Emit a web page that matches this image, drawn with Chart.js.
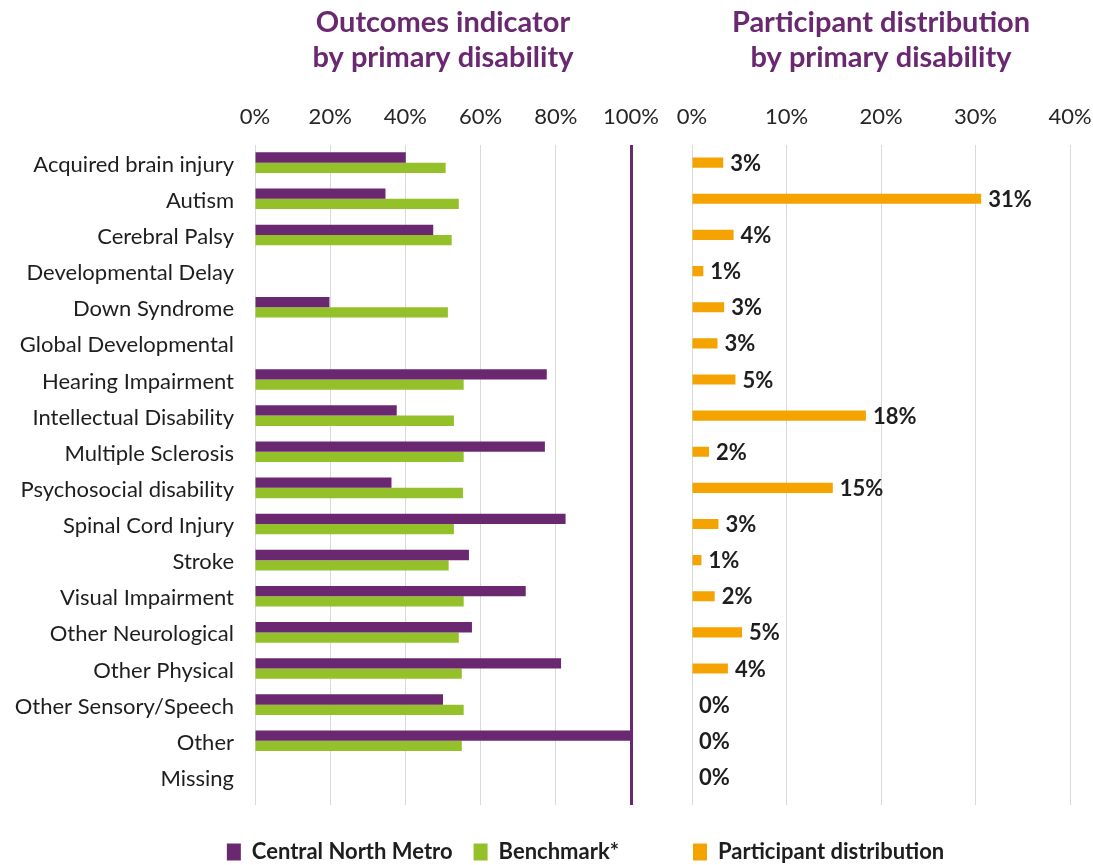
<!DOCTYPE html>
<html>
<head>
<meta charset="utf-8">
<title>Outcomes indicator and participant distribution by primary disability</title>
<script src="https://cdn.jsdelivr.net/npm/chart.js@4.4.1/dist/chart.umd.min.js"></script>
<style>
  html, body { margin: 0; padding: 0; background: #fff; overflow: hidden; }
  #wrap { position: relative; width: 1093px; height: 865px; overflow: hidden; }
  canvas { position: absolute; top: 0; }
  #chartOutcomes { left: 0; }
  #chartDistribution { left: 660px; }
</style>
</head>
<body>
<div id="wrap">
  <canvas id="chartOutcomes" width="680" height="873"></canvas>
  <canvas id="chartDistribution" width="450" height="873"></canvas>
</div>
<script>
// Categorías (discapacidad principal)
const disabilities = [
    'Acquired brain injury', 'Autism', 'Cerebral Palsy', 'Developmental Delay',
    'Down Syndrome', 'Global Developmental', 'Hearing Impairment', 'Intellectual Disability',
    'Multiple Sclerosis', 'Psychosocial disability', 'Spinal Cord Injury', 'Stroke',
    'Visual Impairment', 'Other Neurological', 'Other Physical', 'Other Sensory/Speech',
    'Other', 'Missing'
];

// Indicador de resultados (%)
const centralNorthMetro = [40.1, 34.7, 47.4, null, 19.8, null, 77.6, 37.7, 77.1, 36.3, 82.6, 56.9, 72.0, 57.7, 81.4, 50.0, 100, null];
const benchmark = [50.7, 54.2, 52.3, null, 51.3, null, 55.5, 52.9, 55.5, 55.3, 52.9, 51.5, 55.5, 54.2, 55.0, 55.5, 55.0, null];

// Distribución de participantes (%)
const participantShare = [3.3, 30.6, 4.4, 1.2, 3.4, 2.7, 4.6, 18.4, 1.8, 14.9, 2.8, 1.0, 2.4, 5.3, 3.8, 0, 0, 0];

// Marcas de los ejes
const outcomeTicks = [0, 20, 40, 60, 80, 100];
const shareTicks = [0, 10, 20, 30, 40];

const PURPLE = '#6a2870';
const GREEN = '#94c12a';
const ORANGE = '#f5a300';
const GRID = '#d9d9d9';
const TEXT = '#1e1e1e';

Chart.defaults.font.family = 'Lato, "Open Sans", sans-serif';
Chart.defaults.color = TEXT;

const titleOpts = (lines) => ({
    display: true,
    text: lines,
    color: PURPLE,
    fullSize: false,
    font: { size: 29, weight: 'bold', lineHeight: 1.2 },
    padding: { top: 5, bottom: 30 }
});

const legendOpts = (align) => ({
    position: 'bottom',
    align: align,
    labels: {
        boxWidth: 14,
        boxHeight: 17,
        padding: 21,
        color: TEXT,
        font: { size: 22, weight: 'bold' }
    }
});

// Eje x superior con etiquetas y un eje inferior que solo prolonga la rejilla
function topAxis(max, tickList, gridColor, gridWidth) {
    return {
        axis: 'x',
        position: 'top',
        min: 0,
        max: max,
        afterBuildTicks: a => { a.ticks = tickList.map(v => ({ value: v })); },
        afterFit: a => { a.height = 40; },
        ticks: { padding: 14, color: '#262626', font: { size: 22 }, callback: v => v + '%' },
        grid: { drawTicks: false, color: gridColor, lineWidth: gridWidth },
        border: { display: false }
    };
}

function bottomAxis(max, tickList, gridColor, gridWidth) {
    return {
        type: 'linear',
        axis: 'x',
        position: 'bottom',
        min: 0,
        max: max,
        afterBuildTicks: a => { a.ticks = tickList.map(v => ({ value: v })); },
        afterFit: a => { a.height = 25; },
        ticks: { display: false },
        grid: { drawOnChartArea: false, drawTicks: true, tickLength: 10, color: gridColor, lineWidth: gridWidth },
        border: { display: false }
    };
}

const outcomeGridColor = ctx => (ctx.tick && ctx.tick.value === 100 ? PURPLE : GRID);
const outcomeGridWidth = ctx => (ctx.tick && ctx.tick.value === 100 ? 3 : 1);

// Gráfico del indicador de resultados
new Chart(document.getElementById('chartOutcomes'), {
    type: 'bar',
    data: {
        labels: disabilities,
        datasets: [
            { label: 'Central North Metro', data: centralNorthMetro, backgroundColor: PURPLE },
            { label: 'Benchmark*', data: benchmark, backgroundColor: GREEN }
        ]
    },
    options: {
        indexAxis: 'y',
        responsive: false,
        animation: false,
        datasets: { bar: { borderWidth: 0, categoryPercentage: 0.57, barPercentage: 1 } },
        layout: { padding: { left: 10, right: 40, top: 0, bottom: 0 } },
        scales: {
            x: topAxis(100, outcomeTicks, outcomeGridColor, outcomeGridWidth),
            x2: bottomAxis(100, outcomeTicks, outcomeGridColor, outcomeGridWidth),
            y: {
                position: 'left',
                afterFit: a => { a.width = 245; },
                ticks: { padding: 21, labelOffset: 2, color: TEXT, font: { size: 22 } },
                grid: { display: false, drawTicks: false },
                border: { display: false }
            },
            y2: {
                type: 'category',
                axis: 'y',
                position: 'right',
                afterFit: a => { a.width = 9; },
                ticks: { display: false },
                grid: { display: false },
                border: { display: false }
            }
        },
        plugins: {
            title: titleOpts(['Outcomes indicator', 'by primary disability']),
            legend: legendOpts('end'),
            tooltip: { enabled: false }
        }
    }
});

// Etiquetas de valor al final de cada barra
const barValueLabels = {
    id: 'barValueLabels',
    afterDatasetsDraw(chart) {
        const ctx = chart.ctx;
        const meta = chart.getDatasetMeta(0);
        const values = chart.data.datasets[0].data;
        ctx.save();
        ctx.font = 'bold 22px Lato, "Open Sans", sans-serif';
        ctx.fillStyle = TEXT;
        ctx.textAlign = 'left';
        ctx.textBaseline = 'middle';
        meta.data.forEach((bar, i) => {
            ctx.fillText(Math.round(values[i]) + '%', bar.x + 7, bar.y + 1);
        });
        ctx.restore();
    }
};

// Gráfico de distribución de participantes
new Chart(document.getElementById('chartDistribution'), {
    type: 'bar',
    data: {
        labels: disabilities,
        datasets: [
            { label: 'Participant distribution', data: participantShare, backgroundColor: ORANGE }
        ]
    },
    options: {
        indexAxis: 'y',
        responsive: false,
        animation: false,
        datasets: { bar: { borderWidth: 0, categoryPercentage: 0.28, barPercentage: 1 } },
        layout: { padding: { left: 12, right: 40, top: 0, bottom: 0 } },
        scales: {
            x: topAxis(40, shareTicks, GRID, 1),
            x2: bottomAxis(40, shareTicks, GRID, 1),
            y: {
                position: 'left',
                afterFit: a => { a.width = 20; },
                ticks: { display: false },
                grid: { display: false },
                border: { display: false }
            }
        },
        plugins: {
            title: titleOpts(['Participant distribution', 'by primary disability']),
            legend: legendOpts('start'),
            tooltip: { enabled: false }
        }
    },
    plugins: [barValueLabels]
});
</script>
</body>
</html>
